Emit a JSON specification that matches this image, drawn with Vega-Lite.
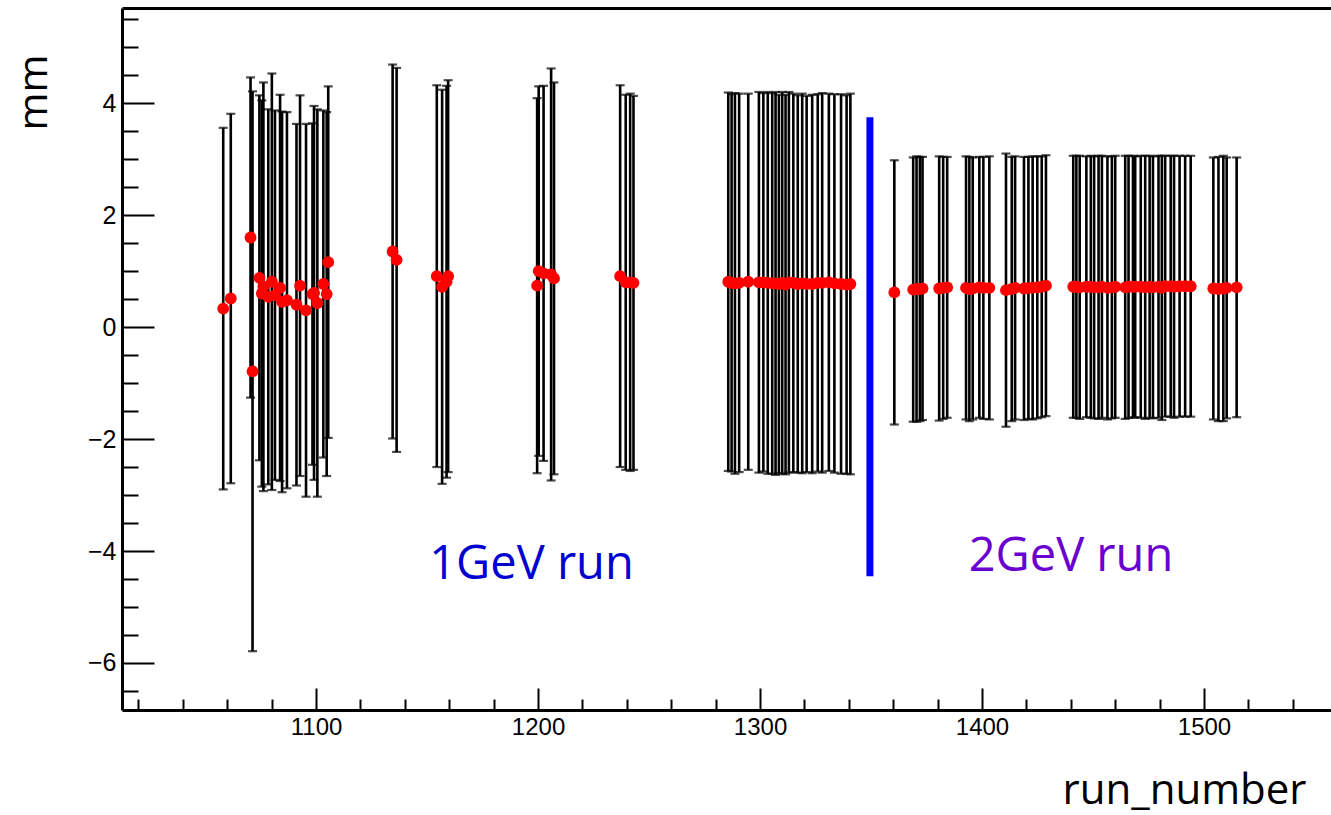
{
  "$schema": "https://vega.github.io/schema/vega-lite/v6.json",
  "width": 1209,
  "height": 702,
  "autosize": {"type": "none"},
  "padding": {"left": 122, "top": 8, "right": 0, "bottom": 105},
  "background": "white",
  "config": {"view": {"stroke": null}, "font": "Liberation Sans"},
  "datasets": {
    "runs": [
      {"run": 1058.2, "mm": 0.33, "err": 3.23},
      {"run": 1061.6, "mm": 0.51, "err": 3.30},
      {"run": 1070.5, "mm": 1.60, "err": 2.86},
      {"run": 1071.4, "mm": -0.79, "err": 5.00},
      {"run": 1074.5, "mm": 0.88, "err": 3.26},
      {"run": 1075.6, "mm": 0.60, "err": 3.45},
      {"run": 1076.3, "mm": 0.72, "err": 3.65},
      {"run": 1078.5, "mm": 0.54, "err": 3.35},
      {"run": 1080.1, "mm": 0.81, "err": 3.72},
      {"run": 1081.5, "mm": 0.57, "err": 3.30},
      {"run": 1083.8, "mm": 0.70, "err": 3.45},
      {"run": 1084.7, "mm": 0.45, "err": 3.40},
      {"run": 1086.9, "mm": 0.48, "err": 3.36},
      {"run": 1091.2, "mm": 0.40, "err": 3.23},
      {"run": 1092.8, "mm": 0.74, "err": 3.40},
      {"run": 1095.5, "mm": 0.30, "err": 3.33},
      {"run": 1098.4, "mm": 0.59, "err": 3.05},
      {"run": 1099.1, "mm": 0.61, "err": 3.34},
      {"run": 1100.6, "mm": 0.43, "err": 3.46},
      {"run": 1103.3, "mm": 0.77, "err": 3.10},
      {"run": 1104.8, "mm": 0.59, "err": 3.25},
      {"run": 1105.5, "mm": 1.16, "err": 3.14},
      {"run": 1134.5, "mm": 1.35, "err": 3.34},
      {"run": 1136.3, "mm": 1.20, "err": 3.43},
      {"run": 1154.4, "mm": 0.91, "err": 3.41},
      {"run": 1156.8, "mm": 0.72, "err": 3.52},
      {"run": 1158.8, "mm": 0.81, "err": 3.50},
      {"run": 1159.5, "mm": 0.91, "err": 3.50},
      {"run": 1199.6, "mm": 0.74, "err": 3.35},
      {"run": 1200.3, "mm": 1.00, "err": 3.30},
      {"run": 1202.5, "mm": 0.96, "err": 3.35},
      {"run": 1205.9, "mm": 0.94, "err": 3.68},
      {"run": 1207.2, "mm": 0.87, "err": 3.50},
      {"run": 1237.0, "mm": 0.91, "err": 3.41},
      {"run": 1239.5, "mm": 0.80, "err": 3.35},
      {"run": 1241.5, "mm": 0.80, "err": 3.37},
      {"run": 1243.0, "mm": 0.79, "err": 3.34},
      {"run": 1285.7, "mm": 0.81, "err": 3.38},
      {"run": 1287.2, "mm": 0.79, "err": 3.37},
      {"run": 1288.7, "mm": 0.78, "err": 3.40},
      {"run": 1290.6, "mm": 0.79, "err": 3.38},
      {"run": 1294.7, "mm": 0.81, "err": 3.36},
      {"run": 1299.5, "mm": 0.80, "err": 3.40},
      {"run": 1301.5, "mm": 0.80, "err": 3.38},
      {"run": 1303.5, "mm": 0.79, "err": 3.41},
      {"run": 1305.5, "mm": 0.78, "err": 3.40},
      {"run": 1307.0, "mm": 0.78, "err": 3.42},
      {"run": 1308.5, "mm": 0.77, "err": 3.38},
      {"run": 1310.0, "mm": 0.79, "err": 3.41},
      {"run": 1311.5, "mm": 0.76, "err": 3.39},
      {"run": 1313.0, "mm": 0.80, "err": 3.40},
      {"run": 1315.0, "mm": 0.79, "err": 3.38},
      {"run": 1317.0, "mm": 0.77, "err": 3.37},
      {"run": 1319.0, "mm": 0.78, "err": 3.39},
      {"run": 1321.0, "mm": 0.77, "err": 3.36},
      {"run": 1323.5, "mm": 0.77, "err": 3.38},
      {"run": 1326.0, "mm": 0.79, "err": 3.37},
      {"run": 1328.0, "mm": 0.79, "err": 3.39},
      {"run": 1331.0, "mm": 0.80, "err": 3.37},
      {"run": 1333.5, "mm": 0.78, "err": 3.38},
      {"run": 1336.5, "mm": 0.77, "err": 3.39},
      {"run": 1339.0, "mm": 0.76, "err": 3.38},
      {"run": 1340.7, "mm": 0.77, "err": 3.40},
      {"run": 1360.5, "mm": 0.62, "err": 2.36},
      {"run": 1369.0, "mm": 0.67, "err": 2.36},
      {"run": 1370.5, "mm": 0.68, "err": 2.37},
      {"run": 1372.0, "mm": 0.68, "err": 2.36},
      {"run": 1373.2, "mm": 0.69, "err": 2.35},
      {"run": 1380.7, "mm": 0.69, "err": 2.36},
      {"run": 1382.5, "mm": 0.70, "err": 2.34},
      {"run": 1384.3, "mm": 0.71, "err": 2.33},
      {"run": 1392.8, "mm": 0.70, "err": 2.35},
      {"run": 1394.3, "mm": 0.68, "err": 2.36},
      {"run": 1395.8, "mm": 0.69, "err": 2.34},
      {"run": 1398.8, "mm": 0.71, "err": 2.33},
      {"run": 1400.6, "mm": 0.70, "err": 2.34},
      {"run": 1403.3, "mm": 0.70, "err": 2.35},
      {"run": 1410.8, "mm": 0.66, "err": 2.44},
      {"run": 1413.4, "mm": 0.68, "err": 2.36},
      {"run": 1414.9, "mm": 0.70, "err": 2.35},
      {"run": 1418.9, "mm": 0.69, "err": 2.35},
      {"run": 1420.9, "mm": 0.70, "err": 2.34},
      {"run": 1422.8, "mm": 0.70, "err": 2.35},
      {"run": 1424.9, "mm": 0.71, "err": 2.34},
      {"run": 1426.9, "mm": 0.72, "err": 2.33},
      {"run": 1428.8, "mm": 0.74, "err": 2.33},
      {"run": 1441.1, "mm": 0.72, "err": 2.34},
      {"run": 1442.5, "mm": 0.72, "err": 2.34},
      {"run": 1444.0, "mm": 0.71, "err": 2.35},
      {"run": 1447.0, "mm": 0.72, "err": 2.33},
      {"run": 1449.0, "mm": 0.72, "err": 2.34},
      {"run": 1450.5, "mm": 0.71, "err": 2.34},
      {"run": 1452.5, "mm": 0.71, "err": 2.35},
      {"run": 1454.0, "mm": 0.72, "err": 2.34},
      {"run": 1456.5, "mm": 0.70, "err": 2.35},
      {"run": 1458.5, "mm": 0.71, "err": 2.34},
      {"run": 1460.0, "mm": 0.72, "err": 2.34},
      {"run": 1464.5, "mm": 0.71, "err": 2.35},
      {"run": 1466.0, "mm": 0.72, "err": 2.34},
      {"run": 1468.0, "mm": 0.72, "err": 2.34},
      {"run": 1469.0, "mm": 0.72, "err": 2.33},
      {"run": 1471.5, "mm": 0.72, "err": 2.34},
      {"run": 1473.5, "mm": 0.71, "err": 2.35},
      {"run": 1475.5, "mm": 0.72, "err": 2.34},
      {"run": 1477.0, "mm": 0.71, "err": 2.34},
      {"run": 1479.5, "mm": 0.72, "err": 2.34},
      {"run": 1481.0, "mm": 0.70, "err": 2.36},
      {"run": 1482.5, "mm": 0.73, "err": 2.33},
      {"run": 1485.0, "mm": 0.73, "err": 2.33},
      {"run": 1486.5, "mm": 0.72, "err": 2.34},
      {"run": 1489.0, "mm": 0.73, "err": 2.33},
      {"run": 1491.5, "mm": 0.73, "err": 2.33},
      {"run": 1494.0, "mm": 0.73, "err": 2.33},
      {"run": 1504.2, "mm": 0.69, "err": 2.34},
      {"run": 1506.5, "mm": 0.68, "err": 2.36},
      {"run": 1508.7, "mm": 0.69, "err": 2.37},
      {"run": 1510.2, "mm": 0.70, "err": 2.33},
      {"run": 1514.7, "mm": 0.71, "err": 2.32}
    ],
    "notes": [
      {"run": 1151, "mm": -4.5, "label": "1GeV run", "beam": "1GeV"},
      {"run": 1394, "mm": -4.35, "label": "2GeV run", "beam": "2GeV"}
    ],
    "divider": [
      {"run": 1349.5, "top": 3.75, "bottom": -4.45}
    ]
  },
  "layer": [
    {
      "data": {"name": "runs"},
      "mark": {"type": "errorbar", "color": "black", "ticks": {"size": 9, "thickness": 2.2, "color": "black"}, "rule": {"strokeWidth": 2.6, "color": "black"}},
      "encoding": {
        "x": {"field": "run", "type": "quantitative", "scale": {"domain": [1012.6, 1557.2], "nice": false, "zero": false},
          "axis": {"orient": "bottom", "values": [1020, 1040, 1060, 1080, 1120, 1140, 1160, 1180, 1220, 1240, 1260, 1280, 1320, 1340, 1360, 1380, 1420, 1440, 1460, 1480, 1520, 1540], "labels": false, "domain": false, "grid": false, "tickSize": -11, "tickWidth": 2, "tickColor": "black", "title": null}},
        "y": {"field": "mm", "type": "quantitative", "scale": {"domain": [-6.84, 5.7], "nice": false, "zero": false},
          "axis": {"orient": "left", "values": [-6.5, -5.5, -5, -4.5, -3.5, -3, -2.5, -1.5, -1, -0.5, 0.5, 1, 1.5, 2.5, 3, 3.5, 4.5, 5, 5.5], "labels": false, "domain": false, "grid": false, "tickSize": -16, "tickWidth": 2, "tickColor": "black", "title": null}},
        "yError": {"field": "err"}
      }
    },
    {
      "data": {"name": "runs"},
      "mark": {"type": "circle", "color": "#ff0000", "opacity": 1, "size": 140},
      "encoding": {
        "x": {"field": "run", "type": "quantitative", "scale": {"domain": [1012.6, 1557.2], "nice": false, "zero": false},
          "axis": {"orient": "bottom", "values": [1100, 1200, 1300, 1400, 1500], "format": "d", "grid": false, "tickSize": -22, "tickWidth": 2, "tickColor": "black", "domainColor": "black", "domainWidth": 3, "labelFont": "Liberation Sans Narrow, Liberation Sans", "labelFontSize": 24, "labelColor": "black", "labelPadding": 27, "labelBaseline": "top", "title": "run_number", "titleFont": "Open Sans", "titleFontSize": 42, "titleFontWeight": "normal", "titleColor": "black", "titleAlign": "right", "titleBaseline": "alphabetic", "titleAnchor": "end", "titleX": 1184, "titleY": 93}},
        "y": {"field": "mm", "type": "quantitative", "scale": {"domain": [-6.84, 5.7], "nice": false, "zero": false},
          "axis": {"orient": "left", "values": [-6, -4, -2, 0, 2, 4], "format": "d", "grid": false, "tickSize": -32, "tickWidth": 2, "tickColor": "black", "domainColor": "black", "domainWidth": 3, "labelFont": "Liberation Sans", "labelFontSize": 25, "labelColor": "black", "labelPadding": 38, "title": "mm", "titleFont": "Open Sans", "titleFontSize": 41, "titleFontWeight": "normal", "titleColor": "black", "titleAngle": 270, "titleAlign": "right", "titleBaseline": "alphabetic", "titleAnchor": "end", "titleX": -76, "titleY": 46}}
      }
    },
    {
      "data": {"name": "divider"},
      "mark": {"type": "rule", "color": "#0000ff", "strokeWidth": 7},
      "encoding": {
        "x": {"field": "run", "type": "quantitative", "scale": {"domain": [1012.6, 1557.2], "nice": false, "zero": false},
          "axis": {"orient": "top", "ticks": false, "labels": false, "grid": false, "domain": true, "domainColor": "black", "domainWidth": 3, "title": null}},
        "y": {"field": "top", "type": "quantitative", "scale": {"domain": [-6.84, 5.7], "nice": false, "zero": false}, "axis": null},
        "y2": {"field": "bottom"}
      }
    },
    {
      "data": {"name": "notes"},
      "mark": {"type": "text", "font": "Open Sans", "fontSize": 47, "align": "left", "baseline": "alphabetic"},
      "encoding": {
        "x": {"field": "run", "type": "quantitative", "scale": {"domain": [1012.6, 1557.2], "nice": false, "zero": false}, "axis": null},
        "y": {"field": "mm", "type": "quantitative", "scale": {"domain": [-6.84, 5.7], "nice": false, "zero": false}, "axis": null},
        "text": {"field": "label"},
        "color": {"field": "beam", "type": "nominal", "scale": {"domain": ["1GeV", "2GeV"], "range": ["#0000d0", "#6a00d0"]}, "legend": null}
      }
    }
  ],
  "resolve": {"axis": {"x": "independent", "y": "independent"}}
}
